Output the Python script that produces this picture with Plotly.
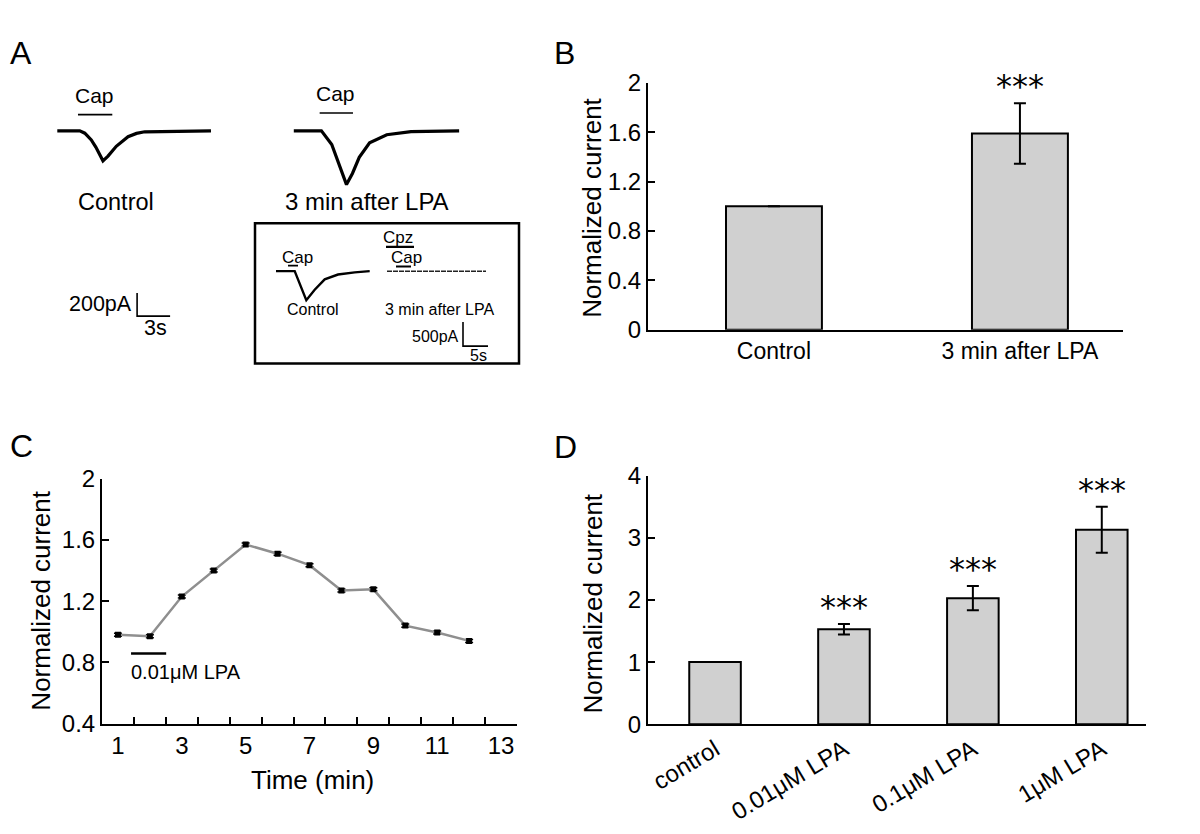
import plotly.graph_objects as go

# ---------------- DATA ----------------
# Panel A: current traces (time in s relative to trace start, current in pA)
ctrl_t = [0, 2.04, 2.5, 3.09, 3.5, 3.85, 4.15, 4.61, 5.36, 6.43, 7.2, 7.95, 13.97]
ctrl_pA = [0, 0, -20, -78, -140, -203, -258, -217, -133, -50, -22, -8, 0]
lpa_t = [0, 2.51, 3.45, 4.23, 4.79, 5.33, 5.95, 6.89, 8.45, 10.65, 15.03]
lpa_pA = [0, 0, -117, -311, -463, -367, -228, -103, -33, -6, 0]
ctrl_cap = [1.88, 5.0]
lpa_cap = [2.35, 5.38]
scale_pA = 200
scale_s = 3

# Inset traces (time s relative to trace start, pA)
inset_ctrl_t = [0, 3.74, 6.06, 7.74, 9.74, 12.4, 15.74, 18.74]
inset_ctrl_pA = [0, 0, -600, -384, -170, -70, -24, 0]
inset_lpa_t = [0, 19.8]
inset_lpa_pA = [0, 0]
inset_ctrl_cap = [2.4, 4.4]
inset_lpa_cpz = [-0.2, 5.4]
inset_lpa_cap = [1.8, 4.8]
inset_scale_pA = 500
inset_scale_s = 5

# Panel B
b_labels = ["Control", "3 min after LPA"]
b_values = [1.0, 1.59]
b_errors = [0, 0.245]
b_sig = ["", "***"]

# Panel C
c_time = [1, 2, 3, 4, 5, 6, 7, 8, 9, 10, 11, 12]
c_values = [0.98, 0.97, 1.23, 1.40, 1.57, 1.51, 1.435, 1.27, 1.277, 1.04, 0.995, 0.94]
c_errors = [0.01, 0.01, 0.01, 0.01, 0.01, 0.01, 0.01, 0.01, 0.01, 0.01, 0.01, 0.01]
c_lpa_bar = [1.41, 2.51]
c_xtick_labels = ["1", "3", "5", "7", "9", "11", "13"]

# Panel D
d_labels = ["control", "0.01μM LPA", "0.1μM LPA", "1μM LPA"]
d_values = [1.0, 1.53, 2.03, 3.13]
d_errors = [0, 0.085, 0.195, 0.37]
d_sig = ["", "***", "***", "***"]

# ---------------- LAYOUT HELPERS ----------------
W, H = 1200, 834
FONT = "Liberation Sans, Arial, sans-serif"
STAR_FONT = "DejaVu Sans"


def px(p):
    return p / W


def py(p):
    return 1 - p / H


fig = go.Figure()

# ---- Panel A (axis x/y: seconds, pA) ----
A_PX_PER_S = 11.0
A_PA_PER_PX = 200 / 24.0
A_BASE = 112.5
a_xrange = [0, 540 / A_PX_PER_S]
a_yrange = [-(370 - A_BASE) * A_PA_PER_PX, A_BASE * A_PA_PER_PX]

ctrl_start = 49.3 / A_PX_PER_S
lpa_start = 285.8 / A_PX_PER_S

fig.add_trace(go.Scatter(x=[ctrl_start + t for t in ctrl_t], y=ctrl_pA, mode="lines",
                         line=dict(color="black", width=3.2), xaxis="x", yaxis="y", hoverinfo="skip"))
fig.add_trace(go.Scatter(x=[lpa_start + t for t in lpa_t], y=lpa_pA, mode="lines",
                         line=dict(color="black", width=3.2), xaxis="x", yaxis="y", hoverinfo="skip"))
# Cap bars
fig.add_trace(go.Scatter(x=[ctrl_start + t for t in ctrl_cap], y=[140, 140], mode="lines",
                         line=dict(color="black", width=1.6), xaxis="x", yaxis="y", hoverinfo="skip"))
fig.add_trace(go.Scatter(x=[lpa_start + t for t in lpa_cap], y=[154, 154], mode="lines",
                         line=dict(color="black", width=1.6), xaxis="x", yaxis="y", hoverinfo="skip"))
# scale bar
sb_x0 = 129.1 / A_PX_PER_S
sb_y0 = -(304 - A_BASE) * A_PA_PER_PX
fig.add_trace(go.Scatter(x=[sb_x0, sb_x0, sb_x0 + scale_s], y=[sb_y0 + scale_pA, sb_y0, sb_y0], mode="lines",
                         line=dict(color="black", width=1.6), xaxis="x", yaxis="y", hoverinfo="skip"))

# ---- Inset (axis x5/y5) ----
I_PX_PER_S = 5.0
I_PA_PER_PX = 20.0
I_L, I_R, I_T, I_B = 247, 511, 208, 353
I_BASE = 257.5
i_xrange = [0, (I_R - I_L) / I_PX_PER_S]
i_yrange = [-(I_B - I_BASE) * I_PA_PER_PX, (I_BASE - I_T) * I_PA_PER_PX]
ic_start = (268 - I_L) / I_PX_PER_S
il_start = (379 - I_L) / I_PX_PER_S
fig.add_trace(go.Scatter(x=[ic_start + t for t in inset_ctrl_t], y=inset_ctrl_pA, mode="lines",
                         line=dict(color="black", width=2.4), xaxis="x5", yaxis="y5", hoverinfo="skip"))
fig.add_trace(go.Scatter(x=[il_start + t for t in inset_lpa_t], y=inset_lpa_pA, mode="lines",
                         line=dict(color="#222222", width=1.5, dash="5px,1px"), xaxis="x5", yaxis="y5", hoverinfo="skip"))
fig.add_trace(go.Scatter(x=[ic_start + t for t in inset_ctrl_cap], y=[116, 116], mode="lines",
                         line=dict(color="black", width=1.8), xaxis="x5", yaxis="y5", hoverinfo="skip"))
fig.add_trace(go.Scatter(x=[il_start + t for t in inset_lpa_cpz], y=[504, 504], mode="lines",
                         line=dict(color="black", width=2.2), xaxis="x5", yaxis="y5", hoverinfo="skip"))
fig.add_trace(go.Scatter(x=[il_start + t for t in inset_lpa_cap], y=[96, 96], mode="lines",
                         line=dict(color="black", width=1.8), xaxis="x5", yaxis="y5", hoverinfo="skip"))
isb_x0 = (455 - I_L) / I_PX_PER_S
isb_y0 = -(335 - I_BASE) * I_PA_PER_PX
fig.add_trace(go.Scatter(x=[isb_x0, isb_x0, isb_x0 + inset_scale_s],
                         y=[isb_y0 + inset_scale_pA, isb_y0, isb_y0], mode="lines",
                         line=dict(color="black", width=1.6), xaxis="x5", yaxis="y5", hoverinfo="skip"))

# ---- Panel B (x2/y2) ----
b_x = list(range(len(b_labels)))
fig.add_trace(go.Bar(x=b_x, y=b_values, width=0.39, marker=dict(color="#d0d0d0", line=dict(color="black", width=2)),
                     error_y=dict(type="data", array=b_errors, color="black", thickness=2, width=6, visible=True),
                     xaxis="x2", yaxis="y2", hoverinfo="skip"))

# ---- Panel C (x3/y3) ----
fig.add_trace(go.Scatter(x=c_time, y=c_values, mode="lines+markers",
                         line=dict(color="#8f8f8f", width=2.5),
                         marker=dict(symbol="square", size=6, color="black"),
                         error_y=dict(type="data", array=c_errors, color="black", thickness=1.5, width=4),
                         xaxis="x3", yaxis="y3", hoverinfo="skip"))
fig.add_trace(go.Scatter(x=c_lpa_bar, y=[0.857, 0.857], mode="lines", line=dict(color="black", width=2.5),
                         xaxis="x3", yaxis="y3", hoverinfo="skip"))

# ---- Panel D (x4/y4) ----
d_x = list(range(len(d_labels)))
fig.add_trace(go.Bar(x=d_x, y=d_values, width=0.4, marker=dict(color="#d0d0d0", line=dict(color="black", width=2)),
                     error_y=dict(type="data", array=d_errors, color="black", thickness=2, width=6, visible=True),
                     xaxis="x4", yaxis="y4", hoverinfo="skip"))

axis_common = dict(showgrid=False, zeroline=False, showline=True, linecolor="black", linewidth=2,
                   tickcolor="black", tickwidth=2, ticklen=7, ticks="inside",
                   tickfont=dict(family=FONT, size=24, color="black"))
hidden = dict(visible=False, showgrid=False, zeroline=False, fixedrange=True)

fig.update_layout(
    width=W, height=H, margin=dict(l=0, r=0, t=0, b=0),
    paper_bgcolor="white", plot_bgcolor="rgba(0,0,0,0)", showlegend=False,
    font=dict(family=FONT, color="black"),
    xaxis=dict(domain=[0, px(540)], range=a_xrange, anchor="y", **hidden),
    yaxis=dict(domain=[py(370), 1], range=a_yrange, anchor="x", **hidden),
    xaxis5=dict(domain=[px(I_L), px(I_R)], range=i_xrange, anchor="y5", **hidden),
    yaxis5=dict(domain=[py(I_B), py(I_T)], range=i_yrange, anchor="x5", **hidden),
    xaxis2=dict(domain=[px(640), px(1115)], range=[-0.512, 1.419], anchor="y2",
                tickmode="array", tickvals=b_x, ticktext=b_labels, **{**axis_common, "ticks": "",
                "tickfont": dict(family=FONT, size=23, color="black")}),
    yaxis2=dict(domain=[py(318), py(63)], range=[0, 2], anchor="x2",
                tickmode="array", tickvals=[0, 0.4, 0.8, 1.2, 1.6, 2], ticktext=["0", "0.4", "0.8", "1.2", "1.6", "2"],
                **axis_common),
    xaxis3=dict(domain=[px(94), px(509)], range=[0.5, 13.5], anchor="y3",
                tickmode="array", tickvals=[1, 3, 5, 7, 9, 11, 13], ticktext=c_xtick_labels,
                minor=dict(tickmode="array", tickvals=[1.5 + i for i in range(12)], ticks="inside",
                           ticklen=7, tickwidth=2, tickcolor="black", showgrid=False),
                **{**axis_common, "ticks": ""}),
    yaxis3=dict(domain=[py(725), py(472)], range=[0.4, 2], anchor="x3",
                tickmode="array", tickvals=[0.4, 0.8, 1.2, 1.6, 2], ticktext=["0.4", "0.8", "1.2", "1.6", "2"],
                **axis_common),
    xaxis4=dict(domain=[px(640), px(1138)], range=[-0.52, 3.343], anchor="y4",
                tickmode="array", tickvals=d_x, ticktext=d_labels, tickangle=-31,
                **{**axis_common, "ticks": "", "tickfont": dict(family=FONT, size=24, color="black")}),
    yaxis4=dict(domain=[py(725.7), py(469)], range=[0, 4], anchor="x4",
                tickmode="array", tickvals=[0, 1, 2, 3, 4], ticktext=["0", "1", "2", "3", "4"],
                **axis_common),
)

# inset box
fig.add_shape(type="rect", xref="paper", yref="paper", x0=px(I_L), x1=px(I_R), y0=py(I_B), y1=py(I_T),
              line=dict(color="black", width=2.5))

ann = []


def text(t, x, y, size, xanchor="center", yanchor="middle", angle=0):
    ann.append(dict(text=t, x=px(x), y=py(y), xref="paper", yref="paper", showarrow=False,
                    xanchor=xanchor, yanchor=yanchor, textangle=angle,
                    font=dict(family=FONT, size=size, color="black")))


# panel letters
text("A", 0, 32, 32, xanchor="left")
text("B", 544, 32, 32, xanchor="left")
text("C", 0, 438, 32, xanchor="left")
text("D", 544, 439, 32, xanchor="left")

# panel A text
text("Cap", 86, 76, 21)
text("Cap", 327, 74, 21)
text("Control", 68, 186, 23.5, xanchor="left")
text("3 min after LPA", 275, 186, 24, xanchor="left")
text("200pA", 126, 291, 21.5, xanchor="right")
text("3s", 147, 316, 21.5)

# inset text
text("Cap", 289, 243, 17)
text("Cpz", 390, 223, 17)
text("Cap", 398, 243, 17)
text("Control", 305, 297, 16)
text("3 min after LPA", 431, 297, 16)
text("500pA", 427, 325, 16)
text("5s", 470, 345, 16)

# axis titles
text("Normalized current", 584, 192, 26, angle=-90)
text("Normalized current", 33, 598, 26, angle=-90)
text("Normalized current", 585, 601, 26, angle=-90)
text("Time (min)", 304, 783, 26)
text("0.01μM LPA", 121, 672, 20, xanchor="left")

# significance stars
for i, s in enumerate(b_sig):
    if s:
        ann.append(dict(text=s, x=i, y=b_values[i] + b_errors[i], xref="x2", yref="y2", showarrow=False,
                        yanchor="bottom", yshift=-4, font=dict(family=STAR_FONT, size=32, color="black")))
for i, s in enumerate(d_sig):
    if s:
        ann.append(dict(text=s, x=i, y=d_values[i] + d_errors[i], xref="x4", yref="y4", showarrow=False,
                        yanchor="bottom", yshift=-4, font=dict(family=STAR_FONT, size=32, color="black")))

fig.update_layout(annotations=ann)
fig.write_html("out.html")
